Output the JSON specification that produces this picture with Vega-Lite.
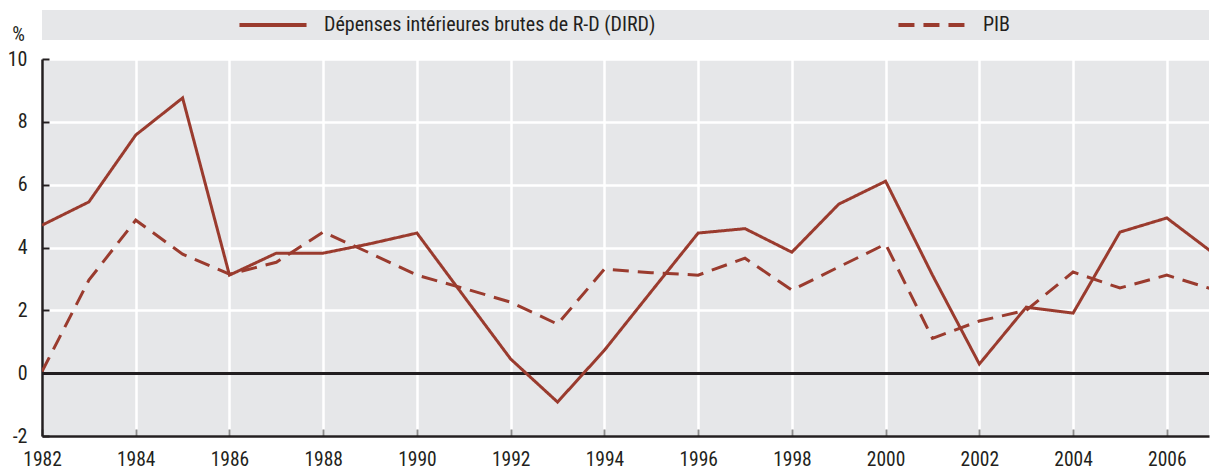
{
  "$schema": "https://vega.github.io/schema/vega-lite/v6.json",
  "autosize": {"type": "pad"},
  "padding": {"left": 7, "top": 10, "right": 0, "bottom": 0},
  "background": "white",
  "config": {
    "font": "Liberation Sans Narrow, Roboto Condensed, DejaVu Sans Condensed, Roboto, sans-serif",
    "view": {"fill": "#e6e7e9", "stroke": null}
  },
  "bounds": "flush",
  "spacing": 19,
  "datasets": {
    "legend": [
      {"series": "Dépenses intérieures brutes de R-D (DIRD)"},
      {"series": "PIB"}
    ],
    "series": [
      {"year": 1982, "series": "Dépenses intérieures brutes de R-D (DIRD)", "value": 4.71},
      {"year": 1983, "series": "Dépenses intérieures brutes de R-D (DIRD)", "value": 5.45},
      {"year": 1984, "series": "Dépenses intérieures brutes de R-D (DIRD)", "value": 7.58},
      {"year": 1985, "series": "Dépenses intérieures brutes de R-D (DIRD)", "value": 8.76},
      {"year": 1986, "series": "Dépenses intérieures brutes de R-D (DIRD)", "value": 3.12},
      {"year": 1987, "series": "Dépenses intérieures brutes de R-D (DIRD)", "value": 3.82},
      {"year": 1988, "series": "Dépenses intérieures brutes de R-D (DIRD)", "value": 3.82},
      {"year": 1989, "series": "Dépenses intérieures brutes de R-D (DIRD)", "value": 4.12},
      {"year": 1990, "series": "Dépenses intérieures brutes de R-D (DIRD)", "value": 4.46},
      {"year": 1991, "series": "Dépenses intérieures brutes de R-D (DIRD)", "value": 2.45},
      {"year": 1992, "series": "Dépenses intérieures brutes de R-D (DIRD)", "value": 0.45},
      {"year": 1993, "series": "Dépenses intérieures brutes de R-D (DIRD)", "value": -0.92},
      {"year": 1994, "series": "Dépenses intérieures brutes de R-D (DIRD)", "value": 0.73},
      {"year": 1995, "series": "Dépenses intérieures brutes de R-D (DIRD)", "value": 2.6},
      {"year": 1996, "series": "Dépenses intérieures brutes de R-D (DIRD)", "value": 4.46},
      {"year": 1997, "series": "Dépenses intérieures brutes de R-D (DIRD)", "value": 4.6},
      {"year": 1998, "series": "Dépenses intérieures brutes de R-D (DIRD)", "value": 3.85},
      {"year": 1999, "series": "Dépenses intérieures brutes de R-D (DIRD)", "value": 5.38},
      {"year": 2000, "series": "Dépenses intérieures brutes de R-D (DIRD)", "value": 6.11},
      {"year": 2001, "series": "Dépenses intérieures brutes de R-D (DIRD)", "value": 3.12},
      {"year": 2002, "series": "Dépenses intérieures brutes de R-D (DIRD)", "value": 0.29},
      {"year": 2003, "series": "Dépenses intérieures brutes de R-D (DIRD)", "value": 2.1},
      {"year": 2004, "series": "Dépenses intérieures brutes de R-D (DIRD)", "value": 1.91},
      {"year": 2005, "series": "Dépenses intérieures brutes de R-D (DIRD)", "value": 4.49},
      {"year": 2006, "series": "Dépenses intérieures brutes de R-D (DIRD)", "value": 4.94},
      {"year": 2007, "series": "Dépenses intérieures brutes de R-D (DIRD)", "value": 3.81},
      {"year": 1982, "series": "PIB", "value": 0.05},
      {"year": 1983, "series": "PIB", "value": 2.96},
      {"year": 1984, "series": "PIB", "value": 4.87},
      {"year": 1985, "series": "PIB", "value": 3.79},
      {"year": 1986, "series": "PIB", "value": 3.15},
      {"year": 1987, "series": "PIB", "value": 3.53},
      {"year": 1988, "series": "PIB", "value": 4.49},
      {"year": 1989, "series": "PIB", "value": 3.82},
      {"year": 1990, "series": "PIB", "value": 3.12},
      {"year": 1991, "series": "PIB", "value": 2.7},
      {"year": 1992, "series": "PIB", "value": 2.26},
      {"year": 1993, "series": "PIB", "value": 1.56},
      {"year": 1994, "series": "PIB", "value": 3.31},
      {"year": 1995, "series": "PIB", "value": 3.2},
      {"year": 1996, "series": "PIB", "value": 3.12},
      {"year": 1997, "series": "PIB", "value": 3.66},
      {"year": 1998, "series": "PIB", "value": 2.64},
      {"year": 1999, "series": "PIB", "value": 3.38},
      {"year": 2000, "series": "PIB", "value": 4.11},
      {"year": 2001, "series": "PIB", "value": 1.11},
      {"year": 2002, "series": "PIB", "value": 1.66},
      {"year": 2003, "series": "PIB", "value": 2.0},
      {"year": 2004, "series": "PIB", "value": 3.22},
      {"year": 2005, "series": "PIB", "value": 2.71},
      {"year": 2006, "series": "PIB", "value": 3.12},
      {"year": 2007, "series": "PIB", "value": 2.66}
    ]
  },
  "vconcat": [
    {
      "width": 1167,
      "height": 30,
      "data": {"name": "legend"},
      "layer": [
        {
          "mark": {"type": "point", "shape": "M-1,0L1,0", "size": 4500, "filled": false, "strokeWidth": 4, "color": "#9a3b2e", "opacity": 1},
          "encoding": {
            "x": {"field": "series", "type": "nominal", "axis": null, "scale": {"type": "point", "range": [231, 890], "padding": 0}},
            "strokeDash": {"field": "series", "type": "nominal", "legend": null,
              "scale": {"domain": ["Dépenses intérieures brutes de R-D (DIRD)", "PIB"], "range": [[1, 0], [16, 9]]}}
          }
        },
        {
          "mark": {"type": "text", "align": "left", "baseline": "middle", "dx": 51, "fontSize": 20, "color": "#231f20"},
          "encoding": {
            "x": {"field": "series", "type": "nominal", "axis": null, "scale": {"type": "point", "range": [231, 890], "padding": 0}},
            "text": {"field": "series"}
          }
        }
      ]
    },
    {
      "width": 1167,
      "height": 377,
      "data": {"name": "series"},
      "layer": [
        {
          "mark": {"type": "rule", "color": "#231f20", "strokeWidth": 2},
          "encoding": {"y": {"datum": 0, "type": "quantitative"}}
        },
        {
          "mark": {"type": "line", "color": "#9a3b2e", "strokeWidth": 3, "clip": true},
          "encoding": {
            "x": {"field": "year", "type": "quantitative",
              "scale": {"domain": [1982, 2006.9], "nice": false, "zero": false},
              "axis": {"title": null, "values": [1982, 1984, 1986, 1988, 1990, 1992, 1994, 1996, 1998, 2000, 2002, 2004, 2006],
                "format": "d", "grid": true, "gridColor": "white", "gridWidth": 2.5, "gridOpacity": 1,
                "domainColor": "#231f20", "domainWidth": 2.5,
                "tickColor": "#8c8c8c", "tickWidth": 2, "tickSize": -7,
                "labelFontSize": 19.5, "labelColor": "#231f20", "labelPadding": 21, "labelFlush": false}},
            "y": {"field": "value", "type": "quantitative",
              "scale": {"domain": [-2, 10], "nice": false},
              "axis": {"title": "%", "titleAngle": 0, "titleX": -24, "titleY": -19, "titleAlign": "center", "titleBaseline": "alphabetic",
                "titleFontSize": 20, "titleFontWeight": "normal", "titleColor": "#231f20",
                "values": [-2, 0, 2, 4, 6, 8, 10], "labelExpr": "'' + datum.value",
                "grid": true, "gridColor": "white", "gridWidth": 2.5, "gridOpacity": 1,
                "domainColor": "#231f20", "domainWidth": 2.5,
                "tickColor": "#231f20", "tickWidth": 2, "tickSize": -7,
                "labelFontSize": 20, "labelColor": "#231f20", "labelPadding": 22}},
            "strokeDash": {"field": "series", "type": "nominal", "legend": null,
              "scale": {"domain": ["Dépenses intérieures brutes de R-D (DIRD)", "PIB"], "range": [[1, 0], [16, 9]]}}
          }
        }
      ]
    }
  ]
}
